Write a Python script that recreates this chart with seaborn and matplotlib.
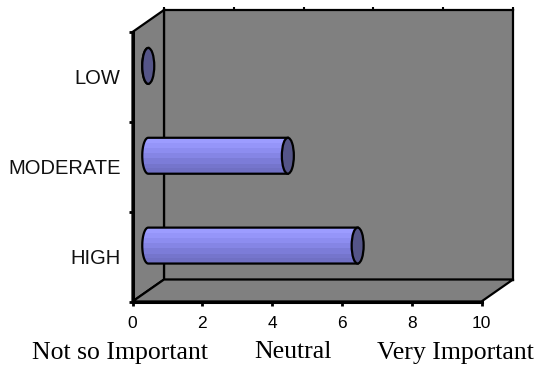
import numpy as np
import pandas as pd
import matplotlib
matplotlib.use("Agg")
import matplotlib.pyplot as plt
import seaborn as sns
from matplotlib.path import Path
from matplotlib.patches import PathPatch, Ellipse, Polygon
from matplotlib.colors import LinearSegmentedColormap

# ---- data ----
levels = ["LOW", "MODERATE", "HIGH"]
counts = [0, 4, 6]
x_ticks = [0, 2, 4, 6, 8, 10]
scale_labels = ["Not so Important", "Neutral", "Very Important"]
scale_label_x = [120.5, 292.5, 455.0]

# ---- canvas geometry (pixels) ----
W, H = 540, 373
FRONT = (132.5, 32.0, 481.5, 301.5)   # left, top, right, bottom of the front plane
DX, DY = 31.5, -22.0                  # depth offset of the back wall

sns.set_theme(style="white")
plt.rcParams["font.family"] = ["Liberation Sans", "DejaVu Sans"]

fig = plt.figure(figsize=(W / 100, H / 100), dpi=100)
fig.patch.set_facecolor("white")


def rect(x0, y0, x1, y1):
    return [x0 / W, 1 - y1 / H, (x1 - x0) / W, (y1 - y0) / H]


def fpt(x, y):
    return (x / W, 1 - y / H)


GRAY = "#808080"
EDGE_LW = 1.6

# back wall
fl, ft, fr, fb = FRONT
px_per_unit = (fr - fl) / 10.0
axb = fig.add_axes(rect(fl + DX, ft + DY, fr + DX, fb + DY), zorder=0)
axb.set_facecolor(GRAY)
axb.set_xlim(0, 10)
axb.set_xticks(x_ticks)
axb.set_yticks([])
axb.tick_params(axis="x", top=True, bottom=False, labeltop=False, labelbottom=False,
                length=2, width=1.5, direction="out", color="black")
for s in axb.spines.values():
    s.set_color("black")
    s.set_linewidth(EDGE_LW)

# left wall and floor
left_wall = Polygon([fpt(fl, ft), fpt(fl + DX, ft + DY), fpt(fl + DX, fb + DY), fpt(fl, fb)],
                    closed=True, facecolor=GRAY, edgecolor="black", linewidth=EDGE_LW,
                    transform=fig.transFigure, zorder=1)
floor = Polygon([fpt(fl, fb), fpt(fr, fb), fpt(fr + DX, fb + DY), fpt(fl + DX, fb + DY)],
                closed=True, facecolor=GRAY, edgecolor="black", linewidth=EDGE_LW,
                transform=fig.transFigure, zorder=1)
fig.add_artist(left_wall)
fig.add_artist(floor)

# bars sit halfway into the depth; the axes reaches a little left of zero
# so the rounded bar ends are not clipped
XPAD = 0.5
axm = fig.add_axes(rect(fl + DX / 2 - XPAD * px_per_unit, ft + DY / 2,
                        fr + DX / 2, fb + DY / 2), zorder=2)
axm.set_facecolor("none")
df = pd.DataFrame({"level": levels, "count": counts})
sns.barplot(data=df, x="count", y="level", order=levels, orient="h", width=0.4,
            color="#9999FF", ax=axm)
axm.axis("off")

body_cmap = LinearSegmentedColormap.from_list(
    "body", ["#9C9CFF", "#9494F8", "#8A8AEC", "#8080DE", "#7676CE", "#7070C4"], N=7)
cap_a = 6.0 / px_per_unit  # half-width of the elliptical end, in data units

for p in list(axm.patches):
    x0 = p.get_x()
    x1 = x0 + p.get_width()
    y0 = p.get_y()
    h = p.get_height()
    yc = y0 + h / 2
    p.set_visible(False)

    t = np.linspace(np.pi / 2, 3 * np.pi / 2, 40)
    arc = np.column_stack([x0 + cap_a * np.cos(t), yc - (h / 2) * np.sin(t)])
    verts = np.vstack([[x1, y0], arc, [x1, y0 + h], [x1, y0]])
    codes = [Path.MOVETO] + [Path.LINETO] * (len(verts) - 2) + [Path.CLOSEPOLY]
    body = PathPatch(Path(verts, codes), facecolor="none", edgecolor="black",
                     linewidth=1.6, zorder=3)
    axm.add_patch(body)
    if x1 > x0:
        grad = np.linspace(0, 1, 64).reshape(-1, 1)
        img = axm.imshow(grad, cmap=body_cmap, aspect="auto", origin="upper",
                         extent=(x0 - cap_a, x1, y0 + h, y0), zorder=2,
                         interpolation="nearest")
        img.set_clip_path(body)

    cap = Ellipse((x1, yc), width=2 * cap_a, height=h, facecolor="#555588",
                  edgecolor="black", linewidth=1.6, zorder=4)
    axm.add_patch(cap)

axm.set_xlim(-XPAD, 10)
axm.set_ylim(2.5, -0.5)

# front plane: axis lines, ticks and labels
ax = fig.add_axes(rect(fl, ft, fr, fb), zorder=3)
ax.set_facecolor("none")
ax.set_xlim(0, 10)
ax.set_ylim(2.5, -0.5)
for side in ("top", "right"):
    ax.spines[side].set_visible(False)
for side in ("left", "bottom"):
    ax.spines[side].set_color("black")
    ax.spines[side].set_linewidth(2.2)
ax.set_xticks(x_ticks)
ax.set_xticklabels([str(v) for v in x_ticks], fontsize=12.5, color="black")
ax.tick_params(axis="x", bottom=True, length=3, width=2, direction="out",
               color="black", pad=7.5)
ax.set_yticks([-0.5, 0.5, 1.5, 2.5])
ax.set_yticklabels([])
ax.set_yticks(range(len(levels)), minor=True)
ax.set_yticklabels(levels, minor=True, fontsize=14.5, color="#111111")
ax.tick_params(axis="y", which="major", left=True, length=3, width=2,
               direction="out", color="black")
ax.tick_params(axis="y", which="minor", left=True, length=0, pad=8.5)

# rating scale beneath the axis
for label, xp in zip(scale_labels, scale_label_x):
    fig.text(xp / W, 1 - 358.5 / H, label, ha="center", va="baseline",
             fontsize=18.5, family=["Liberation Serif", "DejaVu Serif"], color="black")

fig.savefig("out.png", dpi=100)
